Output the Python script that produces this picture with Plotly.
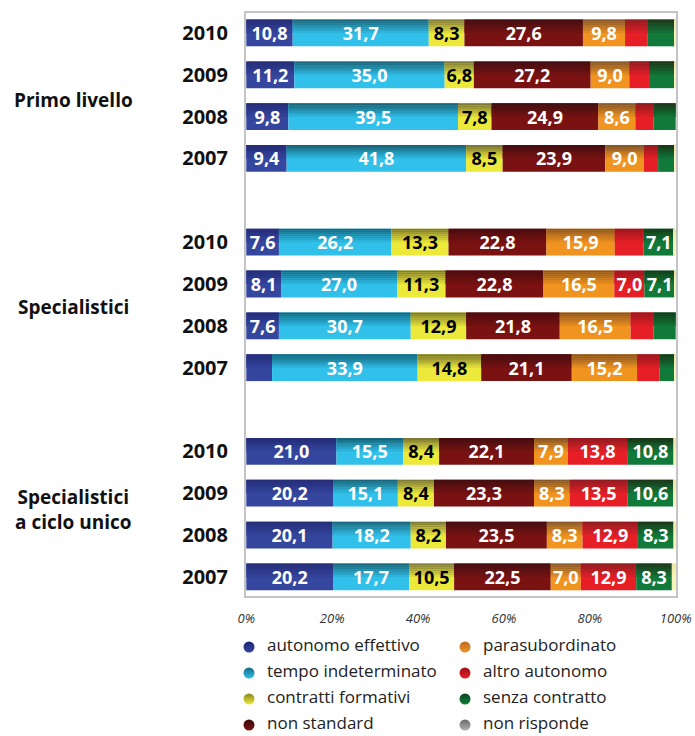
import plotly.graph_objects as go
import numpy as np

# ---------------- data ----------------
group_labels = ["Primo livello", "Specialistici", "Specialistici<br>a ciclo unico"]
year_labels = ["2010", "2009", "2008", "2007"]
series_names = ["autonomo effettivo", "tempo indeterminato", "contratti formativi",
                "non standard", "parasubordinato", "altro autonomo",
                "senza contratto", "non risponde"]

autonomo_effettivo = [10.8, 11.2, 9.8, 9.4, 7.6, 8.1, 7.6, 6.0, 21.0, 20.2, 20.1, 20.2]
tempo_indeterminato = [31.7, 35.0, 39.5, 41.8, 26.2, 27.0, 30.7, 33.9, 15.5, 15.1, 18.2, 17.7]
contratti_formativi = [8.3, 6.8, 7.8, 8.5, 13.3, 11.3, 12.9, 14.8, 8.4, 8.4, 8.2, 10.5]
non_standard = [27.6, 27.2, 24.9, 23.9, 22.8, 22.8, 21.8, 21.1, 22.1, 23.3, 23.5, 22.5]
parasubordinato = [9.8, 9.0, 8.6, 9.0, 15.9, 16.5, 16.5, 15.2, 7.9, 8.3, 8.3, 7.0]
altro_autonomo = [5.3, 4.6, 4.2, 3.3, 6.7, 7.0, 5.3, 5.2, 13.8, 13.5, 12.9, 12.9]
senza_contratto = [6.3, 5.9, 5.2, 3.8, 7.1, 7.1, 5.2, 3.5, 10.8, 10.6, 8.3, 8.3]
non_risponde = [0.2, 0.3, 0.0, 0.3, 0.4, 0.2, 0.0, 0.3, 0.5, 0.6, 0.5, 0.9]

all_series = [autonomo_effettivo, tempo_indeterminato, contratti_formativi, non_standard,
              parasubordinato, altro_autonomo, senza_contratto, non_risponde]

x_tick_vals = [0, 20, 40, 60, 80, 100]
x_tick_text = ["0%", "20%", "40%", "60%", "80%", "100%"]

# ---------------- styles ----------------
top_colors = ["#252c78", "#17667c", "#7d7832", "#450d0f", "#8a5726", "#941a1f", "#183818", "#e9e4a0"]
bottom_colors = ["#34469e", "#30c0ea", "#ece93a", "#7a1212", "#f0931f", "#e61f27", "#11793a", "#f7f3b8"]
legend_colors = ["#3446a4", "#34c0ea", "#ece93a", "#7a1414", "#f0932a", "#e61f27", "#13803c", "#b0b0b0"]
legend_top = ["#1c2470", "#126a88", "#8a8620", "#3a0808", "#b86a20", "#a01018", "#0c4420", "#6a6a6a"]
text_colors = ["white", "white", "black", "white", "white", "white", "white", "white"]

FONT = "Open Sans"
W, H = 695, 736
M_L, M_R, M_T = 245, 18, 12
PLOT_BOTTOM_PX = 597
main_dom_bottom = (H - PLOT_BOTTOM_PX) / (H - M_T)

# bar positions (gap between groups)
positions = np.array([g * 5 + k for g in range(3) for k in range(4)])
tick_text = year_labels * 3


def mix(c1, c2, t):
    a = [int(c1[i:i + 2], 16) for i in (1, 3, 5)]
    b = [int(c2[i:i + 2], 16) for i in (1, 3, 5)]
    m = [round(a[j] + (b[j] - a[j]) * t) for j in range(3)]
    return "#%02x%02x%02x" % tuple(m)


fig = go.Figure()

BAR_H = 0.64
N_STRIPS = 7
GRAD_FRAC = 0.5

vals = np.array(all_series, dtype=float)
bases = np.vstack([np.zeros(vals.shape[1]), np.cumsum(vals, axis=0)[:-1]])

for i, name in enumerate(series_names):
    x = vals[i]
    base = bases[i]
    fig.add_trace(go.Bar(
        y=positions, x=x, base=base, orientation="h",
        width=BAR_H, offset=-BAR_H / 2,
        marker=dict(color=bottom_colors[i], line=dict(width=0)),
        showlegend=False, hoverinfo="skip"))
    sh = BAR_H * GRAD_FRAC / N_STRIPS
    for s in range(N_STRIPS):
        t = s / N_STRIPS
        fig.add_trace(go.Bar(
            y=positions, x=x, base=base, orientation="h",
            width=sh * 1.05, offset=-BAR_H / 2 + s * sh,
            marker=dict(color=mix(top_colors[i], bottom_colors[i], t), line=dict(width=0)),
            showlegend=False, hoverinfo="skip"))

# text layer
for i, name in enumerate(series_names):
    x = vals[i]
    base = bases[i]
    labels = [("%.1f" % v).replace(".", ",") if v >= 6.8 else "" for v in x]
    fig.add_trace(go.Bar(
        y=positions, x=x, base=base, orientation="h",
        width=BAR_H, offset=-BAR_H / 2,
        marker=dict(color="rgba(0,0,0,0)", line=dict(width=0)),
        text=labels, textposition="inside", insidetextanchor="middle",
        textangle=0, constraintext="none",
        textfont=dict(family=FONT, size=18, color=text_colors[i], weight="bold"),
        showlegend=False, hovertemplate=name + ": %{x}<extra></extra>"))

# custom legend on a helper axis (pixel-like coordinates)
LEG_COL_X = [249, 465]
LEG_ROW_Y = [50, 76, 102, 128]
LEG_TEXT_DX = 18
for i, name in enumerate(series_names):
    cx = LEG_COL_X[i // 4]
    cy = LEG_ROW_Y[i % 4]
    fig.add_trace(go.Scatter(
        x=[cx], y=[cy], mode="markers", xaxis="x2", yaxis="y2", cliponaxis=False,
        marker=dict(symbol="circle", size=11, color=legend_top[i], line=dict(width=0),
                    gradient=dict(type="vertical", color=legend_colors[i])),
        showlegend=False, hoverinfo="skip"))
    fig.add_trace(go.Scatter(
        x=[cx + LEG_TEXT_DX], y=[cy], mode="text", text=[name], xaxis="x2", yaxis="y2",
        textposition="middle right", cliponaxis=False,
        textfont=dict(family=FONT, size=17, color="#222222"),
        showlegend=False, hoverinfo="skip"))

# group labels
group_y = [1.6, 6.55, 11.4]
for lab, gy in zip(group_labels, group_y):
    fig.add_annotation(
        x=-0.398, xref="paper", y=gy, yref="y", text=lab, showarrow=False,
        xanchor="center", yanchor="middle", align="center",
        font=dict(family=FONT, size=19, color="#111111", weight="bold"))

fig.update_layout(
    width=W, height=H,
    margin=dict(l=M_L, r=M_R, t=M_T, b=0),
    barmode="overlay",
    plot_bgcolor="white", paper_bgcolor="white",
    showlegend=False,
    xaxis=dict(range=[-0.3, 100.3], tickvals=x_tick_vals, ticktext=x_tick_text,
               showgrid=False, zeroline=False, showline=False, ticks="",
               tickfont=dict(family=FONT, size=13, color="#333333", style="italic"),
               ticklabelstandoff=12, fixedrange=True, anchor="y"),
    yaxis=dict(range=[13.48, -0.5], tickvals=positions, ticktext=tick_text,
               domain=[main_dom_bottom, 1],
               showgrid=False, zeroline=False, showline=False, ticks="",
               tickfont=dict(family=FONT, size=20, color="#111111", weight="bold"),
               ticklabelstandoff=16, fixedrange=True, anchor="x"),
    xaxis2=dict(range=[M_L, W - M_R], domain=[0, 1], anchor="y2", visible=False,
                fixedrange=True),
    yaxis2=dict(range=[H - PLOT_BOTTOM_PX, 0], domain=[0, main_dom_bottom], anchor="x2",
                visible=False, fixedrange=True),
    shapes=[dict(type="rect", xref="paper", yref="paper", x0=0, x1=1, y0=main_dom_bottom, y1=1,
                 line=dict(color="#c4c4c4", width=2), layer="below")],
)

fig.write_html("out.html", config={"displayModeBar": False},
               post_script="document.body.style.margin='0';document.body.style.overflow='hidden';")
